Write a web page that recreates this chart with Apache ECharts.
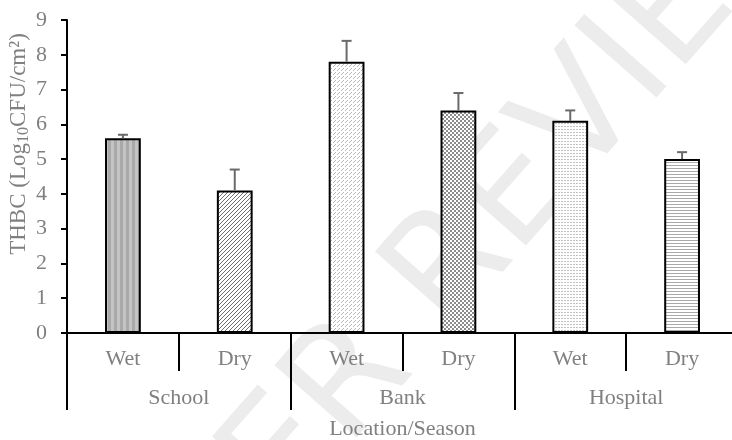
<!DOCTYPE html>
<html>
<head>
<meta charset="utf-8">
<script src="https://cdn.jsdelivr.net/npm/echarts@6/dist/echarts.min.js"></script>
<style>
  html, body { margin: 0; padding: 0; background: #fff; }
  #chart { width: 732px; height: 440px; }
</style>
</head>
<body>
<div id="chart"></div>
<script>
// Total heterotrophic bacterial count by location and season
const seasons = ['Wet', 'Dry', 'Wet', 'Dry', 'Wet', 'Dry'];
const locations = ['School', 'Bank', 'Hospital'];
const thbcMean = [5.6, 4.1, 7.8, 6.4, 6.1, 5.0];
const thbcError = [0.1, 0.6, 0.6, 0.5, 0.3, 0.2];
const yTicks = [0, 1, 2, 3, 4, 5, 6, 7, 8, 9];

const FONT = '"Liberation Serif", "Times New Roman", serif';
const TEXT_GRAY = '#808080';
const FS = 22;

// Small tiled fills for the bars
function tile(w, h, draw) {
  const c = document.createElement('canvas');
  c.width = w; c.height = h;
  const g = c.getContext('2d');
  g.fillStyle = '#fff';
  g.fillRect(0, 0, w, h);
  draw(g);
  return { image: c, repeat: 'repeat' };
}

const fills = [
  // vertical bands
  tile(6, 6, g => {
    g.fillStyle = '#c4c4c4'; g.fillRect(0, 0, 6, 6);
    g.fillStyle = '#a9a9a9'; g.fillRect(0, 0, 3, 6);
  }),
  // dense upward diagonal
  tile(4, 4, g => {
    g.fillStyle = '#6f6f6f';
    for (let i = 0; i < 4; i++) g.fillRect(3 - i, i, 1, 1);
  }),
  // light dashed diagonal
  tile(8, 8, g => {
    g.fillStyle = '#b8b8b8';
    for (let i = 0; i < 8; i++) {
      if (i % 4 === 3) continue;
      g.fillRect((7 - i) % 8, i, 1, 1);
      g.fillRect((11 - i) % 8, i, 1, 1);
    }
  }),
  // small checker
  tile(4, 4, g => {
    g.fillStyle = '#8c8c8c';
    g.fillRect(0, 0, 2, 2);
    g.fillRect(2, 2, 2, 2);
  }),
  // dotted rows
  tile(3, 3, g => {
    g.fillStyle = '#c2c2c2';
    g.fillRect(0, 0, 2, 1);
  }),
  // horizontal lines
  tile(3, 3, g => {
    g.fillStyle = '#a8a8a8';
    g.fillRect(0, 0, 3, 1);
  })
];

const chart = echarts.init(document.getElementById('chart'), null, { renderer: 'canvas' });

const option = {
  backgroundColor: '#fff',
  animation: false,
  textStyle: { fontFamily: FONT },
  graphic: [
    {
      type: 'text',
      z: -10,
      x: 470, y: 250,
      rotation: Math.PI * 0.27,
      silent: true,
      style: {
        text: 'PEER REVIEW',
        font: '150px "DejaVu Sans", sans-serif',
        fill: '#ececec',
        align: 'center',
        verticalAlign: 'middle'
      }
    },
    {
      type: 'text',
      x: 19, y: 144,
      rotation: Math.PI / 2,
      style: {
        text: '{a|THBC (Log}{s|10}{a|CFU/cm²)}',
        align: 'center',
        verticalAlign: 'middle',
        rich: {
          a: { fontFamily: FONT, fontSize: 23, fill: TEXT_GRAY, color: TEXT_GRAY },
          s: { fontFamily: FONT, fontSize: 16, fill: TEXT_GRAY, color: TEXT_GRAY, padding: [10, 0, 0, 0] }
        }
      }
    }
  ],
  grid: {
    left: 67, top: 20, right: -6, height: 313,
    containLabel: false,
    outerBoundsMode: 'none'
  },
  xAxis: [
    {
      type: 'category',
      data: seasons,
      position: 'bottom',
      axisLine: { show: true, lineStyle: { color: '#000', width: 2 } },
      axisTick: { show: true, interval: 0, length: 38, lineStyle: { color: '#000', width: 2 } },
      axisLabel: { interval: 0, margin: 15, fontSize: FS, color: TEXT_GRAY, fontFamily: FONT },
      splitLine: { show: false }
    },
    {
      type: 'category',
      data: locations,
      position: 'bottom',
      axisLine: { show: false },
      axisTick: { show: true, interval: 0, length: 77, lineStyle: { color: '#000', width: 2 } },
      axisLabel: { interval: 0, margin: 54, fontSize: FS, color: TEXT_GRAY, fontFamily: FONT },
      name: 'Location/Season',
      nameLocation: 'middle',
      nameGap: 85,
      nameTextStyle: { fontSize: FS, color: TEXT_GRAY, fontFamily: FONT },
      splitLine: { show: false }
    }
  ],
  yAxis: {
    type: 'value',
    min: yTicks[0],
    max: yTicks[yTicks.length - 1],
    interval: 1,
    axisLine: { show: true, lineStyle: { color: '#000', width: 2 } },
    axisTick: { show: true, length: 6, lineStyle: { color: '#000', width: 2 } },
    axisLabel: { margin: 20, fontSize: FS, color: TEXT_GRAY, fontFamily: FONT, align: 'right' },
    splitLine: { show: false }
  },
  series: [
    {
      type: 'bar',
      xAxisIndex: 0,
      barWidth: '32%',
      data: thbcMean.map((v, i) => ({
        value: v,
        itemStyle: { color: fills[i], borderColor: '#000', borderWidth: 2 }
      }))
    },
    {
      type: 'custom',
      xAxisIndex: 0,
      z: 5,
      data: thbcMean.map((v, i) => [i, v, v + thbcError[i]]),
      renderItem: function (params, api) {
        const base = api.coord([api.value(0), api.value(1)]);
        const top = api.coord([api.value(0), api.value(2)]);
        const half = 5;
        const style = { stroke: '#6a6a6a', lineWidth: 2 };
        return {
          type: 'group',
          children: [
            { type: 'line', shape: { x1: base[0], y1: base[1], x2: top[0], y2: top[1] }, style: style },
            { type: 'line', shape: { x1: top[0] - half, y1: top[1], x2: top[0] + half, y2: top[1] }, style: style }
          ]
        };
      }
    }
  ]
};

chart.setOption(option);
</script>
</body>
</html>
